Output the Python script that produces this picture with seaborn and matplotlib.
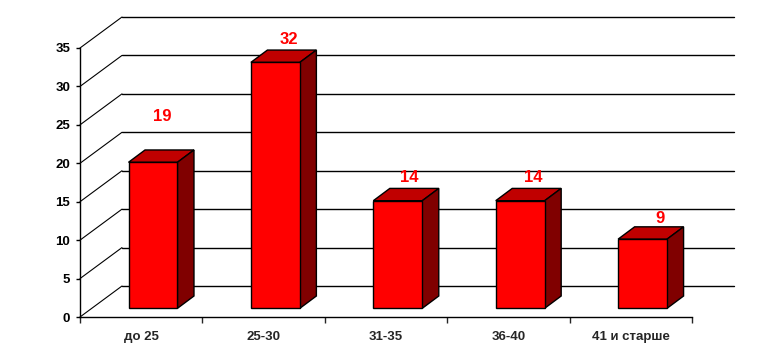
import numpy as np
import pandas as pd
import seaborn as sns
import matplotlib
matplotlib.use("Agg")
import matplotlib.pyplot as plt
from matplotlib.patches import Polygon
from matplotlib.transforms import ScaledTranslation, IdentityTransform

# ---- data ----
categories = ["до 25", "25-30", "31-35", "36-40", "41 и старше"]
values = [19, 32, 14, 14, 9]
y_ticks = [0, 5, 10, 15, 20, 25, 30, 35]

# ---- style (pixel offsets of the pseudo-3D look) ----
DPI = 100
WALL = (42, 31)          # back wall offset from front plane
BAR_FRONT = (11.8, 8.7)  # bar front face offset
BAR_DEPTH = (16.5, 12.3) # bar depth
label_dx = [9, 13, 11, 13, 17]
label_dy = [33, 11, 11, 11, 8]

sns.set_theme(style="white")
plt.rcParams['font.family'] = ['Liberation Sans', 'DejaVu Sans']

fig = plt.figure(figsize=(7.8, 3.61), dpi=DPI)
fig.patch.set_facecolor("white")
ax = fig.add_axes([80 / 780, 1 - 317 / 361, 612 / 780, 269 / 361])
ax.patch.set_visible(False)

df = pd.DataFrame({"cat": categories, "val": values})
sns.barplot(data=df, x="cat", y="val", color="#FF0000", saturation=1,
            width=0.4, edgecolor="black", linewidth=1, ax=ax, zorder=5)

ax.set_xlim(-0.5, 4.5)
ax.set_ylim(0, 35)
fig.canvas.draw()


def off(d):
    return ScaledTranslation(d[0] / DPI, d[1] / DPI, fig.dpi_scale_trans)


def disp(x, y, d=(0, 0)):
    p = ax.transData.transform((x, y))
    return (p[0] + d[0], p[1] + d[1])


# back wall gridlines and left-wall diagonals
for t in y_ticks:
    ax.plot([-0.5, 4.5], [t, t], color="black", lw=1, transform=ax.transData + off(WALL),
            clip_on=False, zorder=1)
    p0 = disp(-0.5, t)
    p1 = disp(-0.5, t, WALL)
    ax.add_line(plt.Line2D([p0[0], p1[0]], [p0[1], p1[1]], color="black", lw=0.8,
                           transform=IdentityTransform(), zorder=1, clip_on=False))

# bars: shift front face, add top and side faces
back = (BAR_FRONT[0] + BAR_DEPTH[0], BAR_FRONT[1] + BAR_DEPTH[1])
for i, p in enumerate(ax.patches[:len(values)]):
    p.set_transform(ax.transData + off(BAR_FRONT))
    p.set_clip_on(False)
    x0 = p.get_x()
    x1 = x0 + p.get_width()
    v = p.get_height()
    top = [disp(x0, v, BAR_FRONT), disp(x1, v, BAR_FRONT), disp(x1, v, back), disp(x0, v, back)]
    side = [disp(x1, 0, BAR_FRONT), disp(x1, v, BAR_FRONT), disp(x1, v, back), disp(x1, 0, back)]
    for verts, col in ((top, "#C00000"), (side, "#800000")):
        ax.add_patch(Polygon(verts, closed=True, facecolor=col, edgecolor="black", lw=1,
                             transform=IdentityTransform(), zorder=4, clip_on=False))
    cx = (x0 + x1) / 2
    lp = disp(cx, v, back)
    lx = disp(cx, v, BAR_FRONT)[0] + label_dx[i]
    ly = lp[1] + label_dy[i]
    ax.text(lx, ly, str(values[i]), transform=IdentityTransform(), color="#FF0000",
            fontsize=12, fontweight="bold", ha="center", va="center", zorder=6)

# axes styling
for s in ("top", "right"):
    ax.spines[s].set_visible(False)
for s in ("left", "bottom"):
    ax.spines[s].set_color("black")
    ax.spines[s].set_linewidth(1)
ax.set_yticks(y_ticks)
ax.set_yticklabels([str(t) for t in y_ticks], fontsize=9.5, fontweight="bold")
ax.tick_params(axis="y", direction="out", length=3, width=1, pad=4, colors="black", left=True)
ax.set_xticks(np.arange(-0.5, 5, 1))
ax.set_xticklabels([])
ax.tick_params(axis="x", which="major", direction="out", length=4, width=1, bottom=True)
ax.set_xticks(np.arange(len(categories)), minor=True)
ax.set_xticklabels(categories, minor=True, fontsize=9.5, fontweight="bold")
ax.tick_params(axis="x", which="minor", length=0, pad=10)
ax.set_xlabel("")
ax.set_ylabel("")
ax.grid(False)

fig.savefig("out.png", dpi=DPI, facecolor="white")
